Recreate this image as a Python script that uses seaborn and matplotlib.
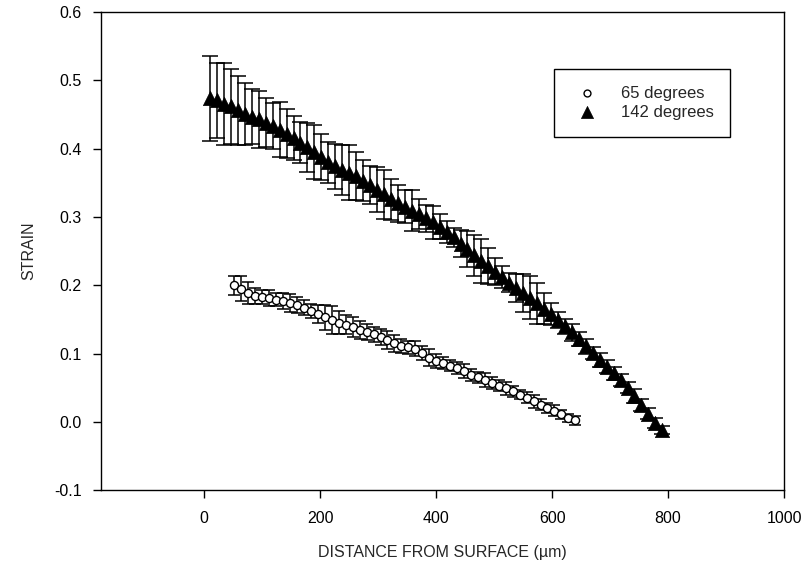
import matplotlib.pyplot as plt
import seaborn as sns
from matplotlib.ticker import FormatStrFormatter

# 65 degrees (open circles)
x65 = [52, 64, 76, 88, 100, 112, 124, 136, 148, 160,
       172, 184, 196, 208, 220, 232, 244, 256, 268, 280,
       292, 304, 316, 328, 340, 352, 364, 376, 388, 400,
       412, 424, 436, 448, 460, 472, 484, 496, 508, 520,
       532, 544, 556, 568, 580, 592, 604, 616, 628, 640]
strain65 = [0.200, 0.195, 0.189, 0.184, 0.183, 0.181, 0.179, 0.177, 0.174, 0.171,
            0.167, 0.162, 0.158, 0.153, 0.149, 0.145, 0.142, 0.139, 0.135, 0.132,
            0.128, 0.124, 0.120, 0.115, 0.111, 0.109, 0.107, 0.101, 0.094, 0.089,
            0.086, 0.082, 0.079, 0.074, 0.069, 0.065, 0.061, 0.057, 0.053, 0.049,
            0.045, 0.040, 0.035, 0.030, 0.025, 0.020, 0.016, 0.011, 0.006, 0.002]
err65 = [0.014, 0.018, 0.016, 0.012, 0.010, 0.012, 0.010, 0.011, 0.013, 0.012,
         0.011, 0.010, 0.013, 0.018, 0.020, 0.017, 0.014, 0.015, 0.013, 0.012,
         0.011, 0.012, 0.013, 0.012, 0.010, 0.009, 0.011, 0.010, 0.012, 0.010,
         0.009, 0.008, 0.009, 0.010, 0.009, 0.008, 0.010, 0.009, 0.008, 0.009,
         0.008, 0.007, 0.008, 0.009, 0.008, 0.007, 0.008, 0.007, 0.006, 0.006]

# 142 degrees (filled triangles)
x142 = [10, 22, 34, 46, 58, 70, 82, 94, 106, 118,
        130, 142, 154, 166, 178, 190, 202, 214, 226, 238,
        250, 262, 274, 286, 298, 310, 322, 334, 346, 358,
        370, 382, 394, 406, 418, 430, 442, 454, 466, 478,
        490, 502, 514, 526, 538, 550, 562, 574, 586, 598,
        610, 622, 634, 646, 658, 670, 682, 694, 706, 718,
        730, 742, 754, 766, 778, 790]
strain142 = [0.474, 0.471, 0.466, 0.462, 0.456, 0.451, 0.447, 0.443, 0.438, 0.433,
             0.428, 0.422, 0.416, 0.409, 0.402, 0.395, 0.388, 0.380, 0.374, 0.369,
             0.365, 0.360, 0.353, 0.347, 0.340, 0.333, 0.326, 0.320, 0.315, 0.309,
             0.304, 0.298, 0.292, 0.286, 0.278, 0.270, 0.261, 0.253, 0.244, 0.236,
             0.228, 0.220, 0.212, 0.204, 0.196, 0.189, 0.182, 0.174, 0.166, 0.158,
             0.149, 0.140, 0.131, 0.121, 0.111, 0.101, 0.091, 0.081, 0.071, 0.061,
             0.050, 0.038, 0.025, 0.012, -0.002, -0.012]
err142 = [0.062, 0.055, 0.060, 0.055, 0.050, 0.045, 0.040, 0.042, 0.036, 0.034,
          0.040, 0.036, 0.032, 0.030, 0.036, 0.040, 0.034, 0.030, 0.033, 0.037,
          0.040, 0.035, 0.030, 0.028, 0.033, 0.036, 0.030, 0.027, 0.024, 0.030,
          0.022, 0.020, 0.024, 0.018, 0.016, 0.014, 0.020, 0.026, 0.030, 0.032,
          0.026, 0.020, 0.016, 0.014, 0.020, 0.028, 0.032, 0.030, 0.022, 0.016,
          0.012, 0.011, 0.012, 0.010, 0.011, 0.009, 0.010, 0.009, 0.010, 0.009,
          0.008, 0.010, 0.009, 0.008, 0.007, 0.006]

xticks = [0, 200, 400, 600, 800, 1000]
yticks = [-0.1, 0.0, 0.1, 0.2, 0.3, 0.4, 0.5, 0.6]

sns.set_theme(style='ticks')
plt.rcParams['font.family'] = ['Liberation Sans', 'DejaVu Sans']
plt.rcParams['axes.unicode_minus'] = False

fig = plt.figure(figsize=(8.05, 5.78), dpi=100)
ax = fig.add_axes([0.1255, 0.152, 0.8485, 0.827])

# error bars under the markers
ax.errorbar(x142, strain142, yerr=err142, fmt='none', ecolor='black',
            elinewidth=1.1, capsize=5.5, capthick=1.1, zorder=2)
ax.errorbar(x65, strain65, yerr=err65, fmt='none', ecolor='black',
            elinewidth=1.1, capsize=4.5, capthick=1.1, zorder=2)

sns.scatterplot(x=x65, y=strain65, marker='o', s=34, color='white',
                edgecolor='black', linewidth=1.0, label='65 degrees', ax=ax, zorder=3)
sns.scatterplot(x=x142, y=strain142, marker='^', s=105, color='black',
                edgecolor='black', linewidth=0.5, label='142 degrees', ax=ax, zorder=3)

ax.set_xlim(-178, 1000)
ax.set_ylim(-0.1, 0.6)
ax.set_xticks(xticks)
ax.set_yticks(yticks)
ax.yaxis.set_major_formatter(FormatStrFormatter('%.1f'))
ax.tick_params(direction='out', length=6, width=1, colors='black',
               labelsize=11.5, top=False, right=False)
ax.tick_params(axis='x', pad=9)
ax.tick_params(axis='y', pad=8)
for sp in ax.spines.values():
    sp.set_visible(True)
    sp.set_color('black')
    sp.set_linewidth(1)

ax.set_xlabel('DISTANCE FROM SURFACE (µm)', fontsize=11.5, labelpad=14)
ax.set_ylabel('STRAIN', fontsize=11.5, labelpad=13)

leg = ax.legend(loc='upper left', bbox_to_anchor=(0.663, 0.881), frameon=True,
                fancybox=False, edgecolor='black', fontsize=12, borderpad=1.0,
                handletextpad=1.0, labelspacing=0.25, borderaxespad=0, framealpha=1,
                markerscale=0.85)
leg.get_frame().set_linewidth(1)

fig.savefig('out.png', dpi=100)
